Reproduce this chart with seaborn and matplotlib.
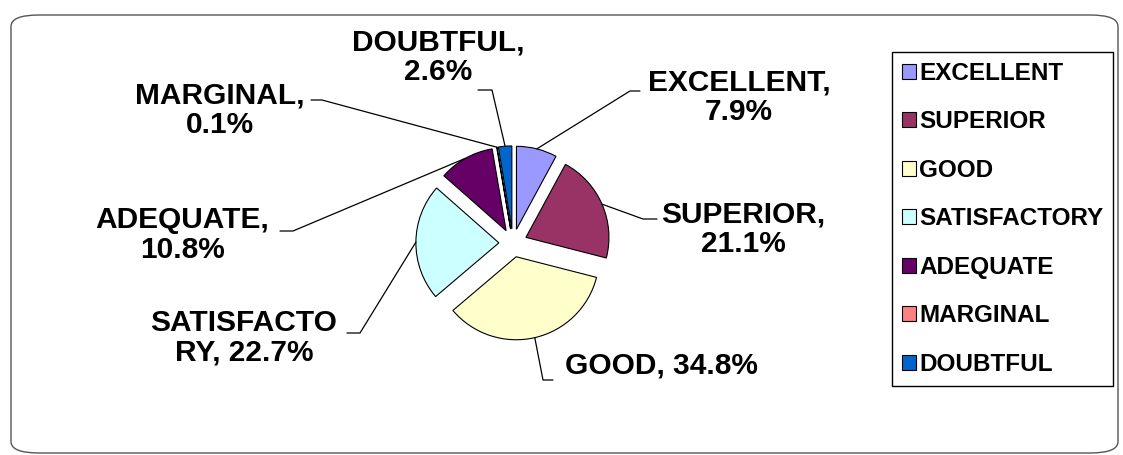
import numpy as np
import seaborn as sns
import matplotlib.pyplot as plt
from matplotlib.patches import FancyBboxPatch

categories = ['EXCELLENT', 'SUPERIOR', 'GOOD', 'SATISFACTORY', 'ADEQUATE', 'MARGINAL', 'DOUBTFUL']
values = [7.9, 21.1, 34.8, 22.7, 10.8, 0.1, 2.6]
label_names = ['EXCELLENT,\n', 'SUPERIOR,\n', 'GOOD, ', 'SATISFACTO\nRY, ', 'ADEQUATE,\n', 'MARGINAL,\n', 'DOUBTFUL,\n']
colors = ['#9999FF', '#993366', '#FFFFCC', '#CCFFFF', '#660066', '#FF8080', '#0066CC']

sns.set_theme(style='white')
plt.rcParams['font.family'] = ['Liberation Sans', 'DejaVu Sans']
plt.rcParams['text.color'] = 'black'

W, H = 1123, 455
fig = plt.figure(figsize=(W / 100, H / 100), dpi=100)

# rounded frame
fig.patches.append(FancyBboxPatch((11 / W, 2 / H), 1107 / W, 438 / H,
                                  boxstyle='round,pad=0,rounding_size=0.025',
                                  transform=fig.transFigure, fill=False,
                                  edgecolor='#555555', lw=1.0))

# pie axes (center ~ (513, 243) px, radius ~83 px)
r_px = 83
size = 3 * r_px
cx, cy = 513, H - 243
ax = fig.add_axes([(cx - size / 2) / W, (cy - size / 2) / H, size / W, size / H])
wedges, _ = ax.pie(values, colors=sns.color_palette(colors), startangle=90, counterclock=False,
                   explode=[0.17] * len(values),
                   wedgeprops=dict(edgecolor='black', linewidth=0.8))
ax.set_xlim(-1.5, 1.5)
ax.set_ylim(-1.5, 1.5)
ax.set_aspect('equal')
ax.axis('off')

# label block centres, leader elbow and tail points (image px)
text_pos = [(739, 97), (743, 229), (661, 366), (244, 338), (182, 235), (220, 110), (438, 57)]
elbows = [(630, 91), (643, 219), (543, 380), (360, 333), (293, 231), (322, 100), (492, 90)]
tails = [(640, 91), (657, 219), (553, 380), (347, 333), (280, 231), (311, 100), (478, 90)]

to_fig = fig.transFigure.inverted()
for w, val, name, tp, el, tl in zip(wedges, values, label_names, text_pos, elbows, tails):
    ang = np.deg2rad((w.theta1 + w.theta2) / 2)
    ex, ey = w.center[0] + w.r * np.cos(ang), w.center[1] + w.r * np.sin(ang)
    p0 = to_fig.transform(ax.transData.transform((ex, ey)))
    xs = [p0[0], el[0] / W, tl[0] / W]
    ys = [p0[1], 1 - el[1] / H, 1 - tl[1] / H]
    fig.add_artist(plt.Line2D(xs, ys, transform=fig.transFigure, color='black', lw=0.9))
    fig.text(tp[0] / W, 1 - tp[1] / H, f'{name}{val}%', ha='center', va='center',
             fontsize=21.5, fontweight='bold', linespacing=1.07, color='black')

fig.legend(wedges, categories, loc='upper left', bbox_to_anchor=(892 / W, 1 - 52 / H),
           frameon=True, fancybox=False, edgecolor='black', framealpha=1,
           prop=dict(size=17.5, weight='bold'), handlelength=0.58, handleheight=0.58,
           handletextpad=0.15, labelspacing=1.05, borderpad=0.4, borderaxespad=0)

fig.savefig('out.png', dpi=100)
